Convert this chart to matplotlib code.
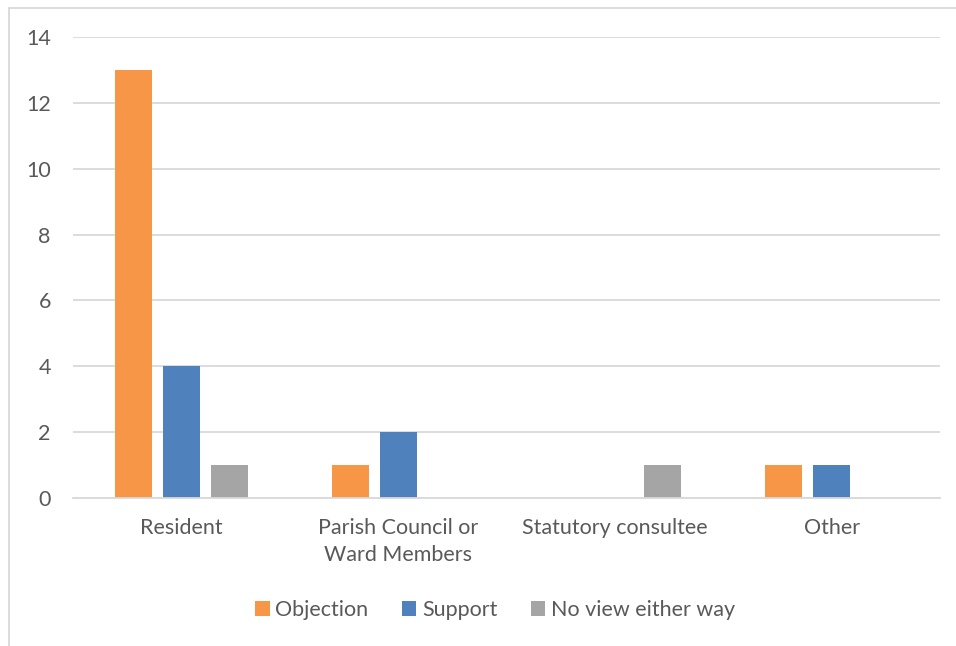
import numpy as np
import matplotlib
matplotlib.use('Agg')
from matplotlib import pyplot as plt
from matplotlib.lines import Line2D

categories = ['Resident', 'Parish Council or\nWard Members', 'Statutory consultee', 'Other']
objection = [13, 1, 0, 1]
support = [4, 2, 0, 1]
no_view = [1, 0, 1, 0]
series_names = ['Objection', 'Support', 'No view either way']
colors = ['#F79646', '#4F81BD', '#A5A5A5']
y_ticks = [0, 2, 4, 6, 8, 10, 12, 14]

plt.rcParams['font.family'] = ['Lato', 'DejaVu Sans']
text_color = '#595959'

fig = plt.figure(figsize=(9.56, 6.46), dpi=100)
ax = fig.add_axes([73/956, 1 - 498/646, (940 - 73)/956, (498 - 37)/646])

x = np.arange(len(categories))
width = 0.171
step = 0.221
for i, (vals, name) in enumerate(zip([objection, support, no_view], series_names)):
    ax.bar(x + (i - 1)*step, vals, width, color=colors[i], label=name, zorder=3)

ax.set_xlim(-0.5, len(categories) - 0.5)
ax.set_ylim(0, 14)
ax.set_yticks(y_ticks)
ax.set_xticks(x)
ax.set_xticklabels(categories, linespacing=1.45)
ax.grid(axis='y', color='#D9D9D9', linewidth=1.3, zorder=0)
for s in ['top', 'right', 'left']:
    ax.spines[s].set_visible(False)
ax.spines['bottom'].set_color('#D9D9D9')
ax.spines['bottom'].set_linewidth(1.3)
ax.spines['bottom'].set_zorder(4)
ax.tick_params(axis='both', length=0, labelsize=15.5, colors=text_color)
ax.tick_params(axis='x', pad=14.5)
ax.tick_params(axis='y', pad=16)

leg = fig.legend(loc='center', bbox_to_anchor=(495/956, 1 - 610/646), ncol=3, frameon=False,
                 fontsize=15.5, handlelength=0.68, handleheight=0.68, handletextpad=0.25,
                 columnspacing=1.55)
for t in leg.get_texts():
    t.set_color(text_color)

# chart frame
fig.add_artist(Line2D([9/956, 1], [1 - 8/646, 1 - 8/646], transform=fig.transFigure, color='#D9D9D9', linewidth=1.3))
fig.add_artist(Line2D([9/956, 9/956], [0, 1 - 8/646], transform=fig.transFigure, color='#D9D9D9', linewidth=1.3))

fig.savefig('out.png', dpi=100)
